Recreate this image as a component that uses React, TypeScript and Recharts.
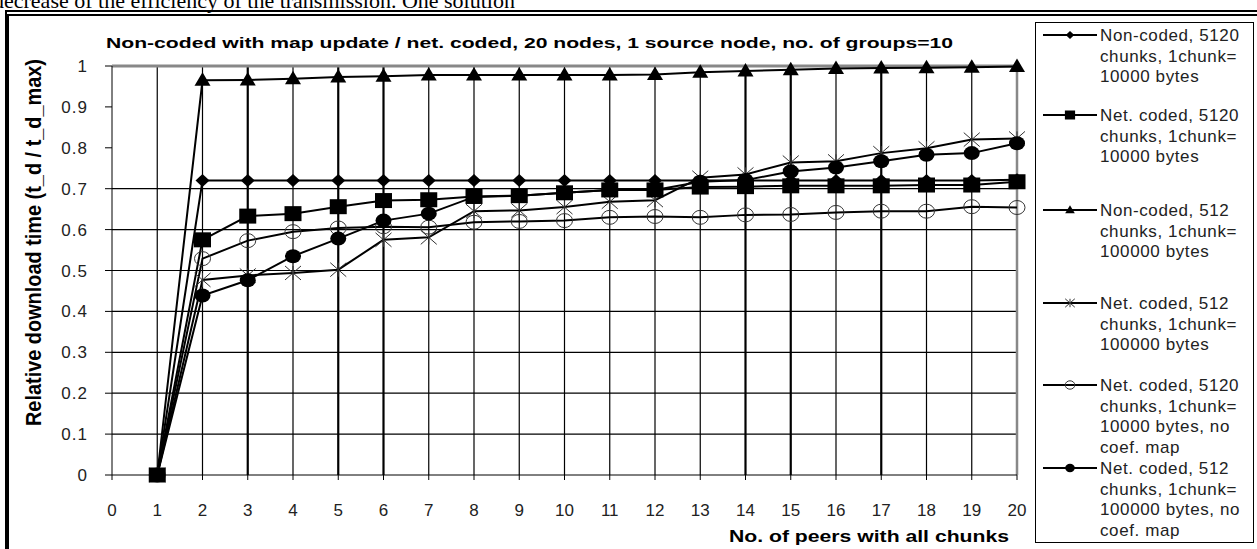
import React from 'react';
import { LineChart, Line, XAxis, YAxis, ReferenceLine } from 'recharts';

// x: number of peers holding all chunks
const peers = [1, 2, 3, 4, 5, 6, 7, 8, 9, 10, 11, 12, 13, 14, 15, 16, 17, 18, 19, 20];

const nonCoded5120 = [0, 0.72, 0.72, 0.72, 0.72, 0.72, 0.72, 0.72, 0.72, 0.72, 0.72, 0.72, 0.72, 0.72, 0.72, 0.72, 0.72, 0.72, 0.72, 0.722];
const netCoded5120 = [0, 0.575, 0.633, 0.639, 0.656, 0.671, 0.673, 0.681, 0.683, 0.69, 0.697, 0.697, 0.704, 0.705, 0.707, 0.707, 0.707, 0.709, 0.709, 0.717];
const nonCoded512 = [0, 0.965, 0.966, 0.969, 0.973, 0.975, 0.978, 0.978, 0.978, 0.978, 0.978, 0.979, 0.985, 0.988, 0.991, 0.994, 0.995, 0.996, 0.997, 0.999];
const netCoded512 = [0, 0.477, 0.488, 0.494, 0.502, 0.575, 0.581, 0.645, 0.647, 0.655, 0.668, 0.672, 0.727, 0.735, 0.764, 0.767, 0.787, 0.799, 0.82, 0.823];
const netCoded5120NoMap = [0, 0.529, 0.573, 0.595, 0.604, 0.607, 0.606, 0.618, 0.62, 0.622, 0.63, 0.632, 0.63, 0.636, 0.637, 0.642, 0.645, 0.645, 0.656, 0.654];
const netCoded512NoMap = [0, 0.439, 0.476, 0.535, 0.578, 0.622, 0.639, 0.68, 0.683, 0.69, 0.697, 0.697, 0.717, 0.721, 0.742, 0.752, 0.767, 0.783, 0.787, 0.811];

const xTicks = [0, 1, 2, 3, 4, 5, 6, 7, 8, 9, 10, 11, 12, 13, 14, 15, 16, 17, 18, 19, 20];
const yTicks = [0, 0.1, 0.2, 0.3, 0.4, 0.5, 0.6, 0.7, 0.8, 0.9, 1];
const gridY = [0.1, 0.2, 0.3, 0.4, 0.5, 0.6, 0.7];
const gridX = [1, 2, 3, 4, 5, 6, 7, 8, 9, 10, 11, 12, 13, 14, 15, 16, 17, 18, 19];
// some vertical rules print heavier in the original scan
const heavyGridX = [3, 5, 6, 14, 15, 17];

const title = 'Non-coded with map update / net. coded, 20 nodes, 1 source node, no. of groups=10';
const xLabel = 'No. of peers with all chunks';
const yLabel = 'Relative download time (t_d / t_d_max)';
const pageText = 'decrease of the efficiency of the transmission. One solution';

type Shape = 'diamond' | 'square' | 'triangle' | 'star' | 'open' | 'filled';

const series: { key: string; label: string[]; values: number[]; shape: Shape }[] = [
  { key: 'nc5120', label: ['Non-coded, 5120', 'chunks, 1chunk=', '10000 bytes'], values: nonCoded5120, shape: 'diamond' },
  { key: 'net5120', label: ['Net. coded, 5120', 'chunks, 1chunk=', '10000 bytes'], values: netCoded5120, shape: 'square' },
  { key: 'nc512', label: ['Non-coded, 512', 'chunks, 1chunk=', '100000 bytes'], values: nonCoded512, shape: 'triangle' },
  { key: 'net512', label: ['Net. coded, 512', 'chunks, 1chunk=', '100000 bytes'], values: netCoded512, shape: 'star' },
  { key: 'net5120nm', label: ['Net. coded, 5120', 'chunks, 1chunk=', '10000 bytes, no', 'coef. map'], values: netCoded5120NoMap, shape: 'open' },
  { key: 'net512nm', label: ['Net. coded, 512', 'chunks, 1chunk=', '100000 bytes, no', 'coef. map'], values: netCoded512NoMap, shape: 'filled' },
];

// squares sit on top in the original, so draw them last
const drawOrder = ['nc5120', 'nc512', 'net512', 'net5120nm', 'net512nm', 'net5120'];

const data = peers.map((p, i) => {
  const row: Record<string, number> = { peers: p };
  series.forEach((s) => { row[s.key] = s.values[i]; });
  return row;
});

// first-line centre of each legend entry
const legendRows = [35, 115, 210, 303, 385, 468];

const FONT = '"Liberation Sans", Arial, sans-serif';

const Marker = ({ shape, cx, cy, s = 1 }: { shape: Shape; cx: number; cy: number; s?: number }) => {
  switch (shape) {
    case 'diamond':
      return <polygon points={`${cx},${cy - 6.5 * s} ${cx + 7 * s},${cy} ${cx},${cy + 6.5 * s} ${cx - 7 * s},${cy}`} fill="#000" />;
    case 'square':
      return <rect x={cx - 8.5 * s} y={cy - 7.5 * s} width={17 * s} height={15 * s} fill="#000" />;
    case 'triangle':
      return <polygon points={`${cx},${cy - 8 * s} ${cx + 8 * s},${cy + 5.5 * s} ${cx - 8 * s},${cy + 5.5 * s}`} fill="#000" />;
    case 'star':
      return (
        <g stroke="#333" strokeWidth={1}>
          <line x1={cx - 8 * s} y1={cy - 7 * s} x2={cx + 8 * s} y2={cy + 7 * s} />
          <line x1={cx - 8 * s} y1={cy + 7 * s} x2={cx + 8 * s} y2={cy - 7 * s} />
          <line x1={cx} y1={cy - 7 * s} x2={cx} y2={cy + 7 * s} />
        </g>
      );
    case 'open':
      return <ellipse cx={cx} cy={cy} rx={8 * s} ry={7 * s} fill="none" stroke="#333" strokeWidth={1} />;
    default:
      return <ellipse cx={cx} cy={cy} rx={8 * s} ry={7 * s} fill="#000" />;
  }
};

export default function App() {
  return (
    <div style={{ position: 'fixed', left: 0, top: 0, width: 1257, height: 549, background: '#fff', overflow: 'hidden', fontFamily: FONT }}>
      <div style={{ position: 'absolute', left: 5, top: 10, width: 1300, height: 600, borderTop: '6px double #000', borderLeft: '4px solid #000' }} />
      <div style={{ position: 'absolute', left: 0, top: 0 }}>
        <LineChart width={1030} height={549} data={data} margin={{ top: 66, right: 13, bottom: 44, left: 52 }}>
          <XAxis
            dataKey="peers"
            type="number"
            domain={[0, 20]}
            ticks={xTicks}
            interval={0}
            height={30}
            stroke="#000"
            tickSize={5}
            tickMargin={24}
            tick={{ fontSize: 17, fill: '#222', fontFamily: FONT }}
          />
          <YAxis
            type="number"
            domain={[0, 1]}
            ticks={yTicks}
            interval={0}
            width={60}
            stroke="#000"
            tickSize={7}
            tickMargin={17}
            tickFormatter={(v: number) => String(v)}
            tick={{ fontSize: 17, fill: '#222', fontFamily: FONT, letterSpacing: 1 }}
          />
          {gridY.map((v) => (
            <ReferenceLine key={`gy${v}`} y={v} stroke="#000" strokeWidth={1.2} />
          ))}
          {gridX.map((v) => (
            <ReferenceLine key={`gx${v}`} x={v} stroke="#000" strokeWidth={heavyGridX.includes(v) ? 2.2 : 1.2} />
          ))}
          <ReferenceLine y={1} stroke="#888" strokeWidth={3} />
          <ReferenceLine x={20} stroke="#888" strokeWidth={2.5} />
          {drawOrder.map((k) => {
            const s = series.find((x) => x.key === k)!;
            return (
              <Line
                key={s.key}
                dataKey={s.key}
                name={s.label.join(' ')}
                stroke="#000"
                strokeWidth={2}
                isAnimationActive={false}
                dot={(p: any) => (
                  <g key={`${s.key}-${p.index}`}>
                    <Marker shape={s.shape} cx={p.cx} cy={p.cy} />
                  </g>
                )}
                activeDot={false}
              />
            );
          })}
        </LineChart>
      </div>
      <svg width={1257} height={549} style={{ position: 'absolute', left: 0, top: 0, pointerEvents: 'none' }}>
        <text x={-7} y={8} fontFamily='"Liberation Serif", "Times New Roman", serif' fontSize={22} fill="#000">
          {pageText}
        </text>
        <text x={106} y={47.7} fontSize={15} fontWeight="bold" fontFamily={FONT} textLength={847} lengthAdjust="spacingAndGlyphs">
          {title}
        </text>
        <text x={729} y={542.3} fontSize={16} fontWeight="bold" fontFamily={FONT} textLength={280} lengthAdjust="spacingAndGlyphs">
          {xLabel}
        </text>
        <g transform="translate(33.5,242.5) scale(1.45,1) rotate(-90)">
          <text x={0} y={5.4} textAnchor="middle" fontSize={15} fontWeight="bold" fontFamily={FONT} textLength={367} lengthAdjust="spacingAndGlyphs">
            {yLabel}
          </text>
        </g>
        <rect x={1035.5} y={22.5} width={218} height={520} fill="#fff" stroke="#000" strokeWidth={1} />
        {series.map((s, i) => {
          const cy = legendRows[i];
          return (
            <g key={s.key}>
              <line x1={1043} y1={cy} x2={1097} y2={cy} stroke="#000" strokeWidth={2} />
              <Marker shape={s.shape} cx={1070} cy={cy} s={0.6} />
              {s.label.map((t, j) => (
                <text key={j} x={1100} y={cy + 6 + j * 20.6} fontSize={17} fill="#222" fontFamily={FONT} letterSpacing={0.6}>
                  {t}
                </text>
              ))}
            </g>
          );
        })}
      </svg>
    </div>
  );
}
